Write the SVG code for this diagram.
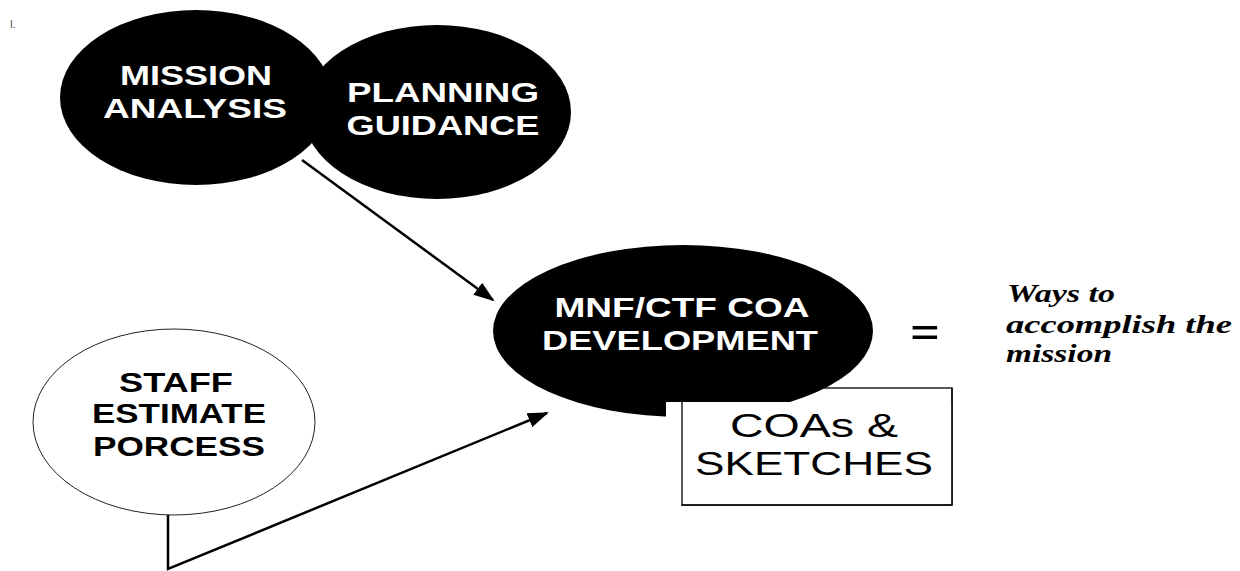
<svg xmlns="http://www.w3.org/2000/svg" width="1240" height="571" viewBox="0 0 1240 571">
  <style>
    .blk { fill: #000; }
    .wt { fill: #fff; font-family: "Liberation Sans", Arial, sans-serif; font-weight: bold; font-size: 28px; text-anchor: middle; }
    .bt { fill: #000; font-family: "Liberation Sans", Arial, sans-serif; font-weight: bold; font-size: 27px; text-anchor: middle; }
    .boxt { fill: #000; font-family: "Liberation Sans", Arial, sans-serif; font-size: 33px; text-anchor: middle; }
    .it { fill: #000; font-family: "Liberation Serif", "Times New Roman", serif; font-weight: bold; font-style: italic; font-size: 26px; }
    .conn { fill: none; stroke: #000; stroke-width: 2.5; }
  </style>
  <defs>
    <marker id="arrow" markerUnits="userSpaceOnUse" markerWidth="21" markerHeight="15" refX="19" refY="7.5" orient="auto">
      <path d="M0,0 L21,7.5 L0,15 Z" fill="#000"/>
    </marker>
  </defs>
  <rect width="1240" height="571" fill="#fff"/>

  <text x="10" y="28" font-family="'Liberation Sans', Arial, sans-serif" font-size="10" fill="#444">I.</text>

  <g id="mission-analysis">
    <ellipse class="blk" cx="196" cy="97.5" rx="136" ry="87.5"/>
  </g>
  <g id="planning-guidance">
    <ellipse class="blk" cx="437" cy="112" rx="134" ry="87"/>
    <text class="wt" x="443" y="102" textLength="192" lengthAdjust="spacingAndGlyphs">PLANNING</text>
    <text class="wt" x="443" y="135" textLength="193" lengthAdjust="spacingAndGlyphs">GUIDANCE</text>
  </g>
  <g id="mission-analysis-text">
    <text class="wt" x="196" y="85" textLength="152" lengthAdjust="spacingAndGlyphs">MISSION</text>
    <text class="wt" x="195" y="118" textLength="184" lengthAdjust="spacingAndGlyphs">ANALYSIS</text>
  </g>

  <g id="staff-estimate">
    <ellipse cx="174" cy="422" rx="141" ry="93" fill="#fff" stroke="#222" stroke-width="1"/>
    <text class="bt" x="176" y="392" textLength="114" lengthAdjust="spacingAndGlyphs">STAFF</text>
    <text class="bt" x="179" y="423" textLength="174" lengthAdjust="spacingAndGlyphs">ESTIMATE</text>
    <text class="bt" x="179" y="456" textLength="172" lengthAdjust="spacingAndGlyphs">PORCESS</text>
  </g>

  <g id="coas-sketches-frame">
    <rect x="682" y="388" width="270" height="117" fill="#fff" stroke="#000" stroke-width="1.3"/>
  </g>

  <g id="coa-development">
    <ellipse class="blk" cx="683" cy="331" rx="190" ry="86"/>
    <text class="wt" x="682" y="317" textLength="255" lengthAdjust="spacingAndGlyphs">MNF/CTF COA</text>
    <text class="wt" x="680" y="350" textLength="276" lengthAdjust="spacingAndGlyphs">DEVELOPMENT</text>
  </g>

  <g id="coas-sketches">
    <rect x="666" y="402" width="285.3" height="102.3" fill="#fff"/>
    <path d="M682,402 L682,505 L952,505 L952,388" fill="none" stroke="#000" stroke-width="1.3"/>
    <text class="boxt" x="814" y="437" textLength="168" lengthAdjust="spacingAndGlyphs">COAs &amp;</text>
    <text class="boxt" x="814" y="475" textLength="238" lengthAdjust="spacingAndGlyphs">SKETCHES</text>
  </g>

  <g id="equals">
    <text x="910" y="348" font-family="'Liberation Serif', 'Times New Roman', serif" font-weight="bold" font-size="48" textLength="30" lengthAdjust="spacingAndGlyphs">=</text>
  </g>

  <g id="ways-text">
    <text class="it" x="1007" y="302" textLength="108" lengthAdjust="spacingAndGlyphs">Ways to</text>
    <text class="it" x="1006" y="333" textLength="226" lengthAdjust="spacingAndGlyphs">accomplish the</text>
    <text class="it" x="1006" y="362" textLength="106" lengthAdjust="spacingAndGlyphs">mission</text>
  </g>

  <g id="connectors">
    <path class="conn" d="M302,160 L493,300" marker-end="url(#arrow)"/>
    <path class="conn" d="M168,515 L168,569 L547,413" marker-end="url(#arrow)"/>
  </g>
</svg>
